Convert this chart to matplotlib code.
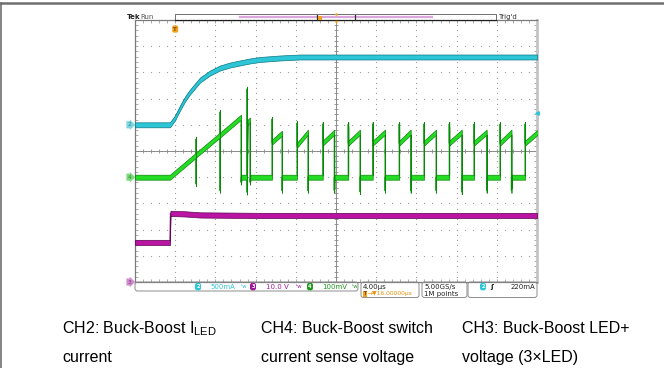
import numpy as np
import matplotlib
matplotlib.use('Agg')
import matplotlib.pyplot as plt
import matplotlib.transforms as mtransforms
from matplotlib.patches import FancyBboxPatch, Rectangle

W, H = 664, 368

# scope settings
US_PER_DIV = 4.0                  # time base, us/div
CH2_SCALE, CH2_POS = 500.0, 1.0   # mA/div, ground position (div)
CH3_SCALE, CH3_POS = 10.0, -5.0   # V/div
CH4_SCALE, CH4_POS = 100.0, -1.0  # mV/div
TRIG_T = 4.0                      # us from left edge
TRIG_LEVEL = 220.0                # mA

# CH2: LED current (mA)
ch2_t = [0.0, 3.48, 3.98, 4.48, 4.98, 5.47, 5.97, 6.47, 7.46, 8.46, 9.45,
         10.4, 11.4, 12.4, 14.4, 16.4, 40.0]
ch2_i = [0, 0, 130, 320, 492, 626, 740, 855, 988, 1084, 1141,
         1179, 1217, 1246, 1275, 1294, 1294]

# CH3: LED+ voltage (V)
ch3_t = [0.0, 3.48, 3.53, 4.98, 6.47, 12.4, 40.0]
ch3_v = [15.1, 15.1, 26.2, 26.0, 25.6, 25.4, 25.4]

# CH4: switch current sense voltage (mV), start-up section
ch4_t = [0.0, 3.48, 6.07, 6.07, 6.07, 6.07, 8.46, 8.46, 8.46, 8.46, 10.55,
         10.55, 10.6, 11.14, 11.14, 11.14, 11.2, 11.44, 11.44, 11.5]
ch4_v = [0, 0, 84, 145, -25, 84, 161, 248, -50, 161, 229,
         -19, 0, 0, 336, -57, 210, 218, -19, 0]

# CH4: switching pulses after start-up
pulse_on = [13.63, 16.12, 18.68, 21.22, 23.65, 26.29, 28.76, 31.27, 33.73, 36.32, 38.81]
pulse_off = [14.63, 17.21, 19.83, 22.39, 24.88, 27.43, 29.96, 32.51, 34.99, 37.46, 40.2]
pulse_lo = [134, 122, 130, 130, 130, 130, 130, 130, 130, 130, 130]
pulse_hi = [168, 172, 172, 172, 172, 172, 172, 172, 172, 172, 176]
pulse_spike = [221, 206, 202, 202, 202, 202, 202, 202, 202, 202, 202]
off_spike = [-50, -50, -50, -55, -50, -50, -50, -55, -50, -50, -50]


def to_div(vals, scale, pos):
    return pos + np.asarray(vals, dtype=float) / scale


def trace(ax, t, y, half, face, edge, line):
    ax.plot(t, y, color=line, lw=0.9, zorder=3)
    ax.fill_between(t, y - half, y + half, facecolor=face, edgecolor=edge,
                    linewidth=0.5, zorder=3.1)


# build CH4 record
t4 = list(ch4_t)
v4 = list(ch4_v)
for on, off, lo, hi, sp, dn in zip(pulse_on, pulse_off, pulse_lo, pulse_hi,
                                   pulse_spike, off_spike):
    t4 += [on, on, on, off, off, off]
    v4 += [0, sp, lo, hi, dn, 0]

fig = plt.figure(figsize=(W / 100, H / 100), dpi=100)

# graticule area
ax = fig.add_axes([135 / W, 1 - 282 / H, 402 / W, 262 / H])
ax.set_xlim(0, 10 * US_PER_DIV)
ax.set_ylim(-5, 5)
for s in ['left', 'bottom', 'top']:
    ax.spines[s].set_color('#7a7a7a')
    ax.spines[s].set_linewidth(0.9)
ax.spines['right'].set_color('#c4c4c4')
ax.spines['right'].set_linewidth(2.0)
ax.set_xticks(np.arange(0, 41, US_PER_DIV))
ax.set_xticks(np.arange(0, 40.01, US_PER_DIV / 5), minor=True)
ax.set_yticks(np.arange(-5, 6, 1))
ax.set_yticks(np.arange(-5, 5.01, 0.2), minor=True)
ax.tick_params(which='both', direction='in', top=True, right=True,
               labelbottom=False, labelleft=False, length=2.2, width=0.5,
               color='#8a8a8a')

# dotted grid
gx, gy = [], []
for xv in np.arange(US_PER_DIV, 40, US_PER_DIV):
    if abs(xv - 20) > 1e-6:
        ys = np.arange(-5, 5.01, 0.2)
        gx += [xv] * len(ys)
        gy += list(ys)
for yv in range(-4, 5):
    if yv != 0:
        xs = np.arange(0, 40.01, US_PER_DIV / 5)
        gx += list(xs)
        gy += [yv] * len(xs)
ax.plot(gx, gy, ls='none', marker='s', ms=0.8, mew=0, color='#a0a0a0', zorder=1)

# center crosshair with ticks
ax.axhline(0, color='#8a8a8a', lw=0.7, zorder=1)
ax.axvline(20, color='#8a8a8a', lw=0.7, zorder=1)
ax.vlines(np.arange(0, 40.01, US_PER_DIV / 5), -0.08, 0.08, color='#8a8a8a', lw=0.6, zorder=1)
ax.hlines(np.arange(-5, 5.01, 0.2), 19.8, 20.2, color='#8a8a8a', lw=0.6, zorder=1)

# traces
trace(ax, np.array(t4), to_div(v4, CH4_SCALE, CH4_POS), 0.095,
      '#25dc25', '#0b860b', '#2fa82f')
trace(ax, np.array(ch3_t), to_div(ch3_v, CH3_SCALE, CH3_POS), 0.1,
      '#ba14a2', '#5e0652', '#9a1488')
trace(ax, np.array(ch2_t), to_div(ch2_i, CH2_SCALE, CH2_POS), 0.095,
      '#2cc6d6', '#0c7884', '#1a9aa8')

# channel ground markers on the left edge
blend_y = mtransforms.blended_transform_factory(ax.transAxes, ax.transData)
for lab, pos, fc, tc in [('2', CH2_POS, '#7fd6df', '#1f8f9a'),
                         ('4', CH4_POS, '#7fd87f', '#1f8f1f'),
                         ('3', CH3_POS, '#cf8fcf', '#8a2a8a')]:
    ax.text(-0.014, pos, lab, transform=blend_y, ha='center', va='center',
            fontsize=4.3, color=tc, clip_on=False,
            bbox=dict(boxstyle='rarrow,pad=0.18', fc=fc, ec='none'))

# trigger level marker on the right edge
ax.plot([40], [CH2_POS + TRIG_LEVEL / CH2_SCALE], marker='<', ms=2.5,
        color='#2cc6d6', clip_on=False, zorder=5)

# trigger position marker
blend_x = mtransforms.blended_transform_factory(ax.transData, ax.transAxes)
ax.text(TRIG_T, 0.975, 'T', transform=blend_x, ha='center', va='top',
        fontsize=4, color='#7a4a00', fontweight='bold',
        bbox=dict(boxstyle='round,pad=0.2,rounding_size=0.3', fc='#f4a21e', ec='none'))

# decorations in pixel coordinates
deco = fig.add_axes([0, 0, 1, 1])
deco.set_xlim(0, W)
deco.set_ylim(H, 0)
deco.axis('off')
deco.set_zorder(3)

deco.plot([0, W], [2.5, 2.5], color='#6e6e6e', lw=1.8)
deco.plot([1.3, 1.3], [2.5, H], color='#6e6e6e', lw=1.2)

# top status line
fs = 5
deco.text(127, 16.8, 'Tek', fontsize=fs, fontweight='bold', va='center', color='#222222')
deco.text(140, 16.8, 'Run', fontsize=fs, va='center', color='#555555')
deco.add_patch(Rectangle((175, 14.3), 321, 5.7, fc='white', ec='#707070', lw=0.7))
deco.plot([175, 496], [20, 20], color='#202020', lw=0.9)
deco.plot([240, 432], [16.8, 16.8], color='#dba6de', lw=1.6)
deco.plot([317, 317], [14.5, 20], color='#303030', lw=0.9)
deco.plot([355, 355], [14.5, 20], color='#303030', lw=0.9)
deco.plot([320], [18.3], marker='s', ms=2.2, mew=0, color='#f0a020')
deco.plot([336], [14.3], marker='o', ms=1.8, mew=0, color='#f0a020')
deco.plot([336], [21.6], marker='v', ms=2.4, mew=0, color='#f0a020')
deco.text(498, 16.8, "Trig'd", fontsize=fs, va='center', color='#333333')

# bottom readout boxes
for x0, w, h in [(135, 223, 9), (361, 58, 15.5), (422, 45, 15.5), (468, 69, 15.5)]:
    deco.add_patch(FancyBboxPatch((x0, 282), w, h,
                                  boxstyle='round,pad=0,rounding_size=2.5',
                                  fc='none', ec='#8c8c8c', lw=0.7))


def badge(x, y, lab, fc):
    deco.text(x, y, lab, fontsize=3.6, color='white', ha='center', va='center',
              fontweight='bold',
              bbox=dict(boxstyle='round,pad=0.25,rounding_size=0.45', fc=fc, ec='none'))


ry = 286.6
badge(198, ry, '2', '#2cc6d6')
deco.text(210, ry, '500mA', fontsize=fs, color='#35c4d4', va='center')
deco.text(241, ry, 'ᵇw', fontsize=3.8, color='#35c4d4', va='center')
badge(253, ry, '3', '#9a1a9a')
deco.text(266, ry, '10.0 V', fontsize=fs, color='#a020a0', va='center')
deco.text(296, ry, 'ᵇw', fontsize=3.8, color='#a020a0', va='center')
badge(310, ry, '4', '#1f9a1f')
deco.text(322, ry, '100mV', fontsize=fs, color='#1f9a1f', va='center')
deco.text(352, ry, 'ᵇw', fontsize=3.8, color='#1f9a1f', va='center')

deco.text(363, ry, '4.00µs', fontsize=fs, color='#222222', va='center')
deco.text(363.5, 293.6, 'T', fontsize=3.4, color='#7a4a00', va='center', fontweight='bold',
          bbox=dict(boxstyle='square,pad=0.12', fc='#f4a21e', ec='none'))
deco.text(367.5, 293.6, '→▼16.00000µs', fontsize=4.3, color='#e8900a', va='center')
deco.text(424, ry, '5.00GS/s', fontsize=fs, color='#222222', va='center')
deco.text(424, 293.6, '1M points', fontsize=fs, color='#222222', va='center')
badge(483, ry, '2', '#2cc6d6')
deco.text(490, ry, 'ʃ', fontsize=fs, color='#222222', va='center', fontweight='bold')
deco.text(535, ry, '220mA', fontsize=fs, color='#222222', va='center', ha='right')

# captions
plt.rcParams['mathtext.fontset'] = 'custom'
plt.rcParams['mathtext.rm'] = 'Liberation Sans'
cap = dict(fontsize=11.5, family='Liberation Sans', color='black', va='baseline')
deco.text(62, 333, r'CH2: Buck-Boost I$_{\mathrm{LED}}$', **cap)
deco.text(62, 362, 'current', **cap)
deco.text(261, 333, 'CH4: Buck-Boost switch', **cap)
deco.text(261, 362, 'current sense voltage', **cap)
deco.text(462, 333, 'CH3: Buck-Boost LED+', **cap)
deco.text(462, 362, 'voltage (3×LED)', **cap)

fig.savefig('out.png', dpi=100)
